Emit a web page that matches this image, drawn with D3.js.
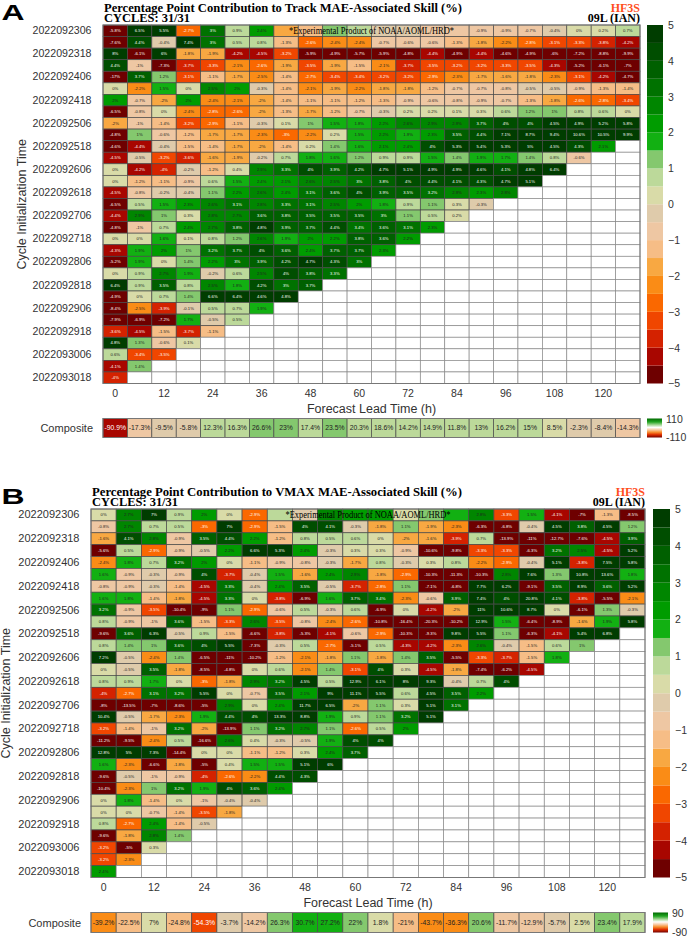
<!DOCTYPE html>
<html>
<head>
<meta charset="utf-8">
<script src="https://cdn.jsdelivr.net/npm/d3@7"></script>
<style>
  body { margin: 0; background: #fff; }
  svg { display: block; }
</style>
</head>
<body>
<svg width="692" height="940"></svg>
<script>
'use strict';

// ---- data ----
const cycles = ['2022092306', '2022092312', '2022092318', '2022092400', '2022092406', '2022092412',
  '2022092418', '2022092500', '2022092506', '2022092512', '2022092518', '2022092600', '2022092606',
  '2022092612', '2022092618', '2022092700', '2022092706', '2022092712', '2022092718', '2022092800',
  '2022092806', '2022092812', '2022092818', '2022092900', '2022092906', '2022092912', '2022092918',
  '2022093000', '2022093006', '2022093012', '2022093018']
const leadTimes = [0, 6, 12, 18, 24, 30, 36, 42, 48, 54, 60, 66, 72, 78, 84, 90, 96, 102, 108, 114, 120, 126]
const leadTicks = [0, 12, 24, 36, 48, 60, 72, 84, 96, 108, 120]
const colorbarTicks = [-5, -4, -3, -2, -1, 0, 1, 2, 3, 4, 5]

const trackSkill = [
  [-5.8, 6.5, 5.5, -2.7, 3, 0.9, 2.4, -1.7, -1.2, 1.1, 0.8, -0.4, -0.5, -0.6, -0.6, -0.9, -0.9, -0.7, -0.4, 0, 0.2, 0.7],
  [-7.6, 4.4, -0.4, 7.4, 3, 0.5, 0.8, -1.3, -2.6, -2.4, -2.4, -0.7, -0.6, -0.6, -1.3, -1.8, -2.2, -2.8, -3.1, -3.3, -3.8, -4.2],
  [8, -6.1, 6, -1.8, -1.9, -4.2, -4.5, -3.2, -5.9, -4.9, -5.7, -5.9, -4.8, -4.4, -4.9, -4.4, -4.6, -4.9, -6, -7.2, -8.8, -9.9],
  [4.4, -1, -7.3, -3.7, -3.3, -2.1, -2.6, -1.9, -3.5, -1.9, -1.5, -2.1, -3.7, -3.5, -3.2, -3.2, -3.3, -3.5, -4.3, -5.2, -6.1, -7],
  [-17, 3.7, 1.2, -3.1, -1.1, -1.7, -2.5, -1.4, -2.7, -3.4, -3.4, -3.2, -3.2, -2.9, -2.3, -1.7, -1.6, -1.8, -2.3, -3.1, -4.2, -4.7],
  [0, -2.2, 1.5, 0, 2.5, 2, -0.3, -1.4, -2.1, -1.9, -2.2, -1.8, -1.8, -1.2, -0.7, -0.7, -0.8, -0.5, -0.5, -0.9, -1.3, -1.4],
  [2, -0.7, -2, 2, -2.4, -2.1, -2, -1.4, -1.1, -1.1, -1.2, -1.3, -0.9, -0.6, -0.8, -0.9, -0.7, -1.3, -1.8, -2.6, -2.8, -3.4],
  [-6.5, -0.8, 0, -2.4, -2.8, -2.6, -2, -1.3, -1.7, -1.2, -0.7, -0.3, 0.2, 0.2, 0.1, 0.3, 0.6, 1.2, 1, 0.8, 0.6, 0],
  [-2, -1, -1.4, -3.2, -2.9, -1.1, -0.3, 0.1, 1, 1.5, 1.8, 2.2, 2.6, 2.9, 2.9, 3.7, 4, 4, 4.5, 4.9, 5.2, 5.8],
  [-4.8, 1, -0.6, -1.2, -1.7, -1.7, -2.3, -3, -2.2, 0.2, 1.5, 2.2, 1.9, 2.3, 3.5, 4.4, 7.1, 8.7, 9.4, 10.6, 10.5, 9.9],
  [-4.6, -4.4, -0.4, -1.5, -1.4, -1.7, -2, -1.4, 0.2, 1.4, 1.6, 2.1, 2.4, 4, 5.3, 5.4, 5.3, 5, 4.5, 4.3, 2.1],
  [-4.5, -0.5, -3.2, -3.6, -1.6, -1.9, -0.2, 0.7, 1.8, 1.6, 1.2, 0.9, 0.9, 1.5, 1.4, 1.9, 1.7, 1.4, 0.8, -0.6],
  [0, -4.2, -4, -0.2, -1.2, 0.4, 2.9, 3.3, 4, 3.9, 4.2, 4.7, 5.1, 4.9, 4.9, 4.6, 4.1, 4.8, 6.4],
  [0, -1.2, -1.1, -0.9, 0.6, 1.5, 2.4, 2.1, 2.6, 2.5, 3, 3.8, 4, 4.4, 4.1, 4.3, 4.7, 5.1],
  [-4.5, -0.8, -0.2, -0.4, 1.1, 2.2, 2.6, 2.4, 3.1, 3.6, 4, 3.9, 3.5, 3.2, 2.9, 2.3, 2.8],
  [-6.5, 0.5, 1.5, 2.3, 2.6, 3.1, 2.8, 3.3, 3.1, 2.5, 2, 1.8, 0.9, 1.1, 0.3, -0.3],
  [-4.4, 2.9, 1, 0.3, 2.8, 2.7, 3.6, 3.8, 3.5, 3.5, 3.5, 3, 1.1, 0.5, 0.2],
  [-4.8, -1, 0.7, 2.4, 2.7, 3.8, 4.8, 3.9, 3.7, 4.4, 3.4, 3.6, 3.1, 2.3],
  [0, 0, 1.6, 0.1, 0.8, 1.2, 2.6, 1.9, 2, 2.2, 3.8, 3.6, 2.2],
  [-4.3, 1.9, 2, 1, 3.2, 3.7, 4, 3.6, 2.4, 3.7, 3.7, 2.3],
  [-5.2, 1.9, 0, 1.4, 2.2, 3, 3.9, 4.2, 4.7, 4.3, 3],
  [0, 0.9, 2.7, 1.9, -0.2, 0.6, 2.5, 4, 3.8, 3.3],
  [6.4, 0.9, 3.5, 0.8, 2.5, 1.8, 4.2, 3, 3.7],
  [-4.9, 0, 0.7, 1.4, 6.6, 6.4, 4.6, 4.8],
  [-8.4, -2.5, -3.9, -0.1, 0.5, 0.7, 1.9],
  [-7.9, -6.9, -7.2, 1.7, -0.5, 0.5],
  [-3.6, -4.5, -1.5, -3.7, -1.1],
  [4.8, 1.3, -0.6, 0.1],
  [0.6, -3.4, -3.5],
  [-4.1, 1.4],
  [-4]
]
const trackComposite = [-90.9, -17.3, -9.5, -5.8, 12.3, 16.3, 26.6, 23, 17.4, 23.5, 20.3, 18.6, 14.2, 14.9,
  11.8, 13, 16.2, 15, 8.5, -2.3, -8.4, -14.3]
const trackCompositeLimit = 110

const vmaxSkill = [
  [0, 2.7, 7, 0.9, 2, 0, -2.9, 0.9, -0.5, 2.5, 2.2, 2.4, 0.3, 1.2, 1.6, 2.8, -3.3, 1.5, -4.1, -7, -1.3, -8.5],
  [-0.8, 2.7, 0.7, 0.5, -3, 7, -2.9, -1.5, 4, 4.1, -0.3, -1.8, 1.1, -1.9, -2.3, -6.3, -6.8, -0.4, 4.5, 3.8, 4.5, 1.2],
  [-1.6, 4.1, 2.8, -0.9, 3.5, 4.4, 2.2, -1.2, 0.8, 0.5, 0.6, 0, -2, -1.6, -3.9, 0.7, -13.9, -11, -12.7, -7.6, -4.5, 3.9],
  [-5.6, 0.5, -2.9, -0.9, -0.5, 2.2, 6.6, 5.3, 2.4, -0.3, 0.3, 0.3, -0.9, -10.6, -9.8, -3.3, -3.3, -6.3, 3.2, 2.5, -4.5, 5.2],
  [-2.4, 1.8, 0.7, 3.2, 2, 0, -1.1, -0.9, -0.8, -0.3, -1.7, 0.8, -0.3, 0.3, 0.8, -2.2, -2.9, -0.4, 5.1, -3.8, 7.5, 5.8],
  [1.6, -0.9, -0.3, -0.9, 4, -3.7, -0.4, 1.5, -1.6, 2.4, 2.9, -1.8, -2.9, -10.3, -11.3, -10.3, 2.8, 7.6, 1.3, 10.8, 13.6, 1.8],
  [-0.8, -0.9, -0.3, -1.4, -4.5, 3.3, -0.4, 2.4, 3.5, -0.5, -3.7, -2.8, 1.1, -7.1, -6.8, 7.7, 6.2, -9.1, 3.5, 8.9, 3.6, 5.2],
  [1.6, 1.8, -1.4, -1.8, -4.5, 3.3, 0, -3.8, -6.9, 1.6, 3.7, 3.4, -2.3, -0.6, 3.9, 7.4, 4, 20.8, 4.1, -3.8, -5.5, -2.1],
  [3.2, -0.9, -3.5, -10.4, -9, 1.1, -2.9, -0.6, 0.5, -0.3, 0.6, -6.9, 0, -4.2, -2, 11, 10.6, 8.7, 0, -6.1, 1.3, -0.3],
  [0.8, -0.9, -1, 3.6, -1.5, -3.3, 2.6, -3.5, -0.8, -2.4, -2.6, -10.8, -16.4, -20.3, -10.2, 12.9, 1.5, -6.4, -8.9, -1.6, 1.9, 5.8],
  [-9.6, 3.6, 6.3, -0.5, 0.9, -1.5, -6.6, -3.8, -5.3, -4.1, -0.6, -2.9, -10.3, -9.3, 9.8, 5.5, 1.1, -6.3, -4.1, 5.4, 6.8],
  [0.8, 1.4, 1, 3.6, 4, 5.5, -7.3, -0.3, 0.5, -2.7, -5.1, 0.5, -4.3, -4.2, -2.3, 2.6, -0.4, -1.5, 0.6, 1],
  [7.2, -0.5, -2.4, 1.4, -6.5, -11, -10.2, -1.2, -2.1, -1.8, 1.1, -1.8, 1.4, 3.5, -5.5, -3.3, -3.7, -1.5, 1.8],
  [0, -0.5, 3.5, -1.8, -8.5, -4.8, 0, 0.6, -2.1, 1.4, -3.1, 4, 0.3, -4.5, -1.8, -7.4, -6.2, -4.5],
  [0.8, 0.9, 1.7, 0, -3, -1.8, 2.9, 3.2, 4.5, 0.5, 12.9, 6.1, 8, 9.3, -0.4, 0.7, 4],
  [-4, -2.7, 3.1, 3.2, 5.5, 0, -0.7, 3.5, 2.1, 9, 11.1, 5.5, 0.6, 4.5, 3.5, 2.2],
  [-8, -13.5, -7, -8.6, -5, 2.9, 0, 2.4, 11.7, 6.5, -2, 1.1, 0.3, 5.1, 3.1],
  [10.4, -0.5, -1.7, -2.3, 1.9, 4.4, 4, 13.3, 8.8, 1.9, 0.9, 1.1, 3.2, 5.1],
  [-3.2, -1.4, -1, 3.2, -2, -13.9, 1.1, 3.2, 2.7, 1.1, -2.6, 0.5, 2],
  [-11.2, -9.5, -2.4, 0.5, -16.6, 2.6, 0.4, -0.3, -0.5, 1.9, 4, 4],
  [12.8, 5, 7.3, -14.4, 0, 0, -1.1, -1.2, 0.3, 2.4, 3.7],
  [1.6, -2.3, -6.6, -1.8, -5, 0.4, 1.5, 1.5, 5.1, 6],
  [-9.6, -0.5, -1, -0.9, -4, -2.6, -2.2, 4.4, 4.3],
  [-10.4, -2.3, 1, 3.2, 1.9, 4, 3.6, 2.4],
  [0, 1.8, -1.4, 0, -1, -0.4, -0.4],
  [0, 0, -0.7, -1.4, -3.5, -1.8],
  [0.8, -2.7, 2.4, -1.4, -0.5],
  [-9.6, -1.8, 2.8, 1.4],
  [-3.2, -5, 0.3],
  [-3.2, -2.3],
  [2.4]
]
const vmaxComposite = [-39.2, -22.5, 7, -24.8, -54.3, -3.7, -14.2, 26.3, 30.7, 27.2, 22, 1.8, -21, -43.7,
  -36.3, 20.6, -11.7, -12.9, -5.7, 2.5, 23.4, 17.9]
const vmaxCompositeLimit = 90

// ---- colour levels (0.5 steps, -5..5) ----
const colorBreaks = [-4.5, -4, -3.5, -3, -2.5, -2, -1.5, -1, -0.5, 0, 0.5, 1, 1.5, 2, 2.5, 3, 3.5, 4, 4.5]
const palette = ['#6e0000', '#a80600', '#d42200', '#f04600', '#fa6800', '#fa8c16', '#f8a842', '#f6bd86',
  '#eec7a3', '#dfcbab', '#d9dba8', '#bcd99a', '#84c86e', '#12b012', '#009c00', '#008600', '#007200',
  '#006000', '#004e00', '#003d00']
const color = d3.scaleThreshold().domain(colorBreaks).range(palette)
const bandEdges = [-5].concat(colorBreaks, [5])

const sans = "'Liberation Sans', Arial, Helvetica, sans-serif"
const serif = "'Liberation Serif', 'Times New Roman', serif"
const bannerW = 165

const svg = d3.select('svg')
svg.append('rect').attr('width', 692).attr('height', 940).attr('fill', '#fff')

const defs = svg.append('defs')
const grad = defs.append('linearGradient').attr('id', 'compGrad')
  .attr('x1', 0).attr('y1', 0).attr('x2', 0).attr('y2', 1)
grad.selectAll('stop')
  .data([[0, '#006a00'], [0.18, '#22a422'], [0.34, '#a8d898'], [0.47, '#ffffff'], [0.6, '#f8c8a0'],
    [0.72, '#f89030'], [0.85, '#e03000'], [1, '#700000']])
  .join('stop').attr('offset', (d) => d[0]).attr('stop-color', (d) => d[1])

const panels = [
  {letter: 'A', title: 'Percentage Point Contribution to Track MAE-Associated Skill (%)', titleW: 358,
    values: trackSkill, composite: trackComposite, limit: trackCompositeLimit,
    left: 103, right: 640, top: 25, bottom: 383.5, labelSize: 10.6, yTitleX: 22,
    cbarX: 647, cbarW: 16, compTop: 418.5, compBottom: 437.5},
  {letter: 'B', title: 'Percentage Point Contribution to VMAX MAE-Associated Skill (%)', titleW: 370,
    values: vmaxSkill, composite: vmaxComposite, limit: vmaxCompositeLimit,
    left: 91, right: 645, top: 509, bottom: 877.5, labelSize: 11, yTitleX: 6,
    cbarX: 653, cbarW: 17, compTop: 912.5, compBottom: 932.5}
]

panels.forEach(drawPanel)

function drawPanel(p) {
  const g = svg.append('g')
  const x = d3.scaleBand().domain(leadTimes).range([p.left, p.right])
  const y = d3.scaleBand().domain(cycles).range([p.top, p.bottom])
  const midX = (p.left + p.right) / 2

  // panel letter
  g.append('text')
    .attr('transform', `translate(1.5,${p.top - 5.5}) scale(1.45,1)`)
    .attr('font-family', sans).attr('font-weight', 'bold').attr('font-size', 22)
    .text(p.letter)

  // header texts
  g.append('text').attr('x', p.left + 1).attr('y', p.top - 13)
    .attr('font-family', serif).attr('font-weight', 'bold').attr('font-size', 11.5)
    .attr('textLength', p.titleW).attr('lengthAdjust', 'spacingAndGlyphs')
    .text(p.title)
  g.append('text').attr('x', p.left + 1).attr('y', p.top - 3)
    .attr('font-family', serif).attr('font-weight', 'bold').attr('font-size', 11.5)
    .attr('textLength', 86).attr('lengthAdjust', 'spacingAndGlyphs')
    .text('CYCLES: 31/31')
  g.append('text').attr('x', p.right).attr('y', p.top - 13).attr('text-anchor', 'end')
    .attr('font-family', serif).attr('font-weight', 'bold').attr('font-size', 12).attr('fill', '#ff4f1e')
    .text('HF3S')
  g.append('text').attr('x', p.right).attr('y', p.top - 3).attr('text-anchor', 'end')
    .attr('font-family', serif).attr('font-weight', 'bold').attr('font-size', 12)
    .text('09L (IAN)')

  // cells
  const cells = []
  cycles.forEach((c, i) => leadTimes.forEach((t, j) => cells.push({cycle: c, lead: t, v: p.values[i][j]})))
  g.append('g').selectAll('rect').data(cells).join('rect')
    .attr('x', (d) => x(d.lead)).attr('y', (d) => y(d.cycle))
    .attr('width', x.bandwidth()).attr('height', y.bandwidth())
    .attr('fill', (d) => d.v === undefined ? '#fff' : color(d.v))
    .attr('stroke', (d) => d.v === undefined ? '#8a8a8a' : '#4a4a4a')
    .attr('stroke-width', 0.7)

  // the banner sits on the first row and hides the labels underneath it
  const underBanner = (d) => {
    const cx = x(d.lead) + x.bandwidth() / 2
    return d.cycle === cycles[0] && Math.abs(cx - midX) < bannerW / 2 + 6
  }
  g.append('g').selectAll('text').data(cells.filter((d) => d.v !== undefined && !underBanner(d))).join('text')
    .attr('x', (d) => x(d.lead) + x.bandwidth() / 2)
    .attr('y', (d) => y(d.cycle) + y.bandwidth() / 2 + 1.4)
    .attr('text-anchor', 'middle')
    .attr('font-family', sans).attr('font-size', 4.2)
    .attr('fill', (d) => (d.v < -2.5 || d.v >= 3) ? '#fff' : '#222')
    .text((d) => d.v + '%')
  g.append('rect').attr('x', p.left).attr('y', p.top)
    .attr('width', p.right - p.left).attr('height', p.bottom - p.top)
    .attr('fill', 'none').attr('stroke', '#777').attr('stroke-width', 1)

  g.append('text').attr('x', midX).attr('y', p.top + 8.5).attr('text-anchor', 'middle')
    .attr('font-family', serif).attr('font-size', 9.5)
    .attr('textLength', bannerW).attr('lengthAdjust', 'spacingAndGlyphs')
    .text('*Experimental Product of NOAA/AOML/HRD*')

  // axes
  const xAxis = g.append('g').attr('transform', `translate(0,${p.bottom})`)
    .call(d3.axisBottom(x).tickValues(leadTicks).tickSize(0).tickPadding(6.5))
    .attr('font-family', sans).attr('font-size', 10.5)
  xAxis.select('.domain').remove()
  xAxis.selectAll('text').attr('fill', '#333')

  const yAxis = g.append('g').attr('transform', `translate(${p.left},0)`)
    .call(d3.axisLeft(y).tickValues(cycles.filter((c, i) => i % 2 === 0)).tickSize(0).tickPadding(11.5))
    .attr('font-family', sans).attr('font-size', p.labelSize)
  yAxis.select('.domain').remove()
  yAxis.selectAll('text').attr('fill', '#333')

  g.append('text').attr('x', midX).attr('y', p.bottom + 29).attr('text-anchor', 'middle')
    .attr('font-family', sans).attr('font-size', 12.5).attr('fill', '#333')
    .text('Forecast Lead Time (h)')
  g.append('text')
    .attr('transform', `translate(${p.yTitleX},${(p.top + p.bottom) / 2}) rotate(-90)`)
    .attr('text-anchor', 'middle').attr('dominant-baseline', 'central')
    .attr('font-family', sans).attr('font-size', 12.5).attr('fill', '#333')
    .text('Cycle Initialization Time')

  // colour bar
  const cy = d3.scaleLinear().domain([-5, 5]).range([p.bottom, p.top])
  g.append('g').selectAll('rect').data(d3.pairs(bandEdges)).join('rect')
    .attr('x', p.cbarX).attr('width', p.cbarW)
    .attr('y', (d) => cy(d[1])).attr('height', (d) => cy(d[0]) - cy(d[1]))
    .attr('fill', (d) => color(d[0]))
  const cAxis = g.append('g').attr('transform', `translate(${p.cbarX + p.cbarW},0)`)
    .call(d3.axisRight(cy).tickValues(colorbarTicks).tickSize(0).tickPadding(5))
    .attr('font-family', sans).attr('font-size', 10.5)
  cAxis.select('.domain').remove()
  cAxis.selectAll('text').attr('fill', '#333')

  // composite row
  const comp = p.composite.map((v, i) => ({lead: leadTimes[i], v: v, s: v / p.limit * 5}))
  const compH = p.compBottom - p.compTop
  g.append('g').selectAll('rect').data(comp).join('rect')
    .attr('x', (d) => x(d.lead)).attr('y', p.compTop)
    .attr('width', x.bandwidth()).attr('height', compH)
    .attr('fill', (d) => color(d.s))
    .attr('stroke', '#4a4a4a').attr('stroke-width', 0.7)
  g.append('g').selectAll('text').data(comp).join('text')
    .attr('x', (d) => x(d.lead) + x.bandwidth() / 2).attr('y', p.compTop + compH / 2 + 2.4)
    .attr('text-anchor', 'middle')
    .attr('font-family', sans).attr('font-size', 6.8)
    .attr('fill', (d) => d.s < -2.5 ? '#fff' : '#222')
    .text((d) => d.v + '%')
  g.append('rect').attr('x', p.left).attr('y', p.compTop)
    .attr('width', p.right - p.left).attr('height', compH)
    .attr('fill', 'none').attr('stroke', '#777').attr('stroke-width', 1)
  g.append('text').attr('x', p.left - 10).attr('y', p.compTop + compH / 2 + 4)
    .attr('text-anchor', 'end')
    .attr('font-family', sans).attr('font-size', 11).attr('fill', '#333')
    .text('Composite')

  // composite legend
  g.append('rect').attr('x', p.cbarX).attr('y', p.compTop)
    .attr('width', 15).attr('height', compH).attr('fill', 'url(#compGrad)')
  g.append('text').attr('x', p.cbarX + 19).attr('y', p.compTop + 4.5)
    .attr('font-family', sans).attr('font-size', 10.5).attr('fill', '#333')
    .text(p.limit)
  g.append('text').attr('x', p.cbarX + 19).attr('y', p.compBottom + 3.5)
    .attr('font-family', sans).attr('font-size', 10.5).attr('fill', '#333')
    .text(-p.limit)
}
</script>
</body>
</html>
